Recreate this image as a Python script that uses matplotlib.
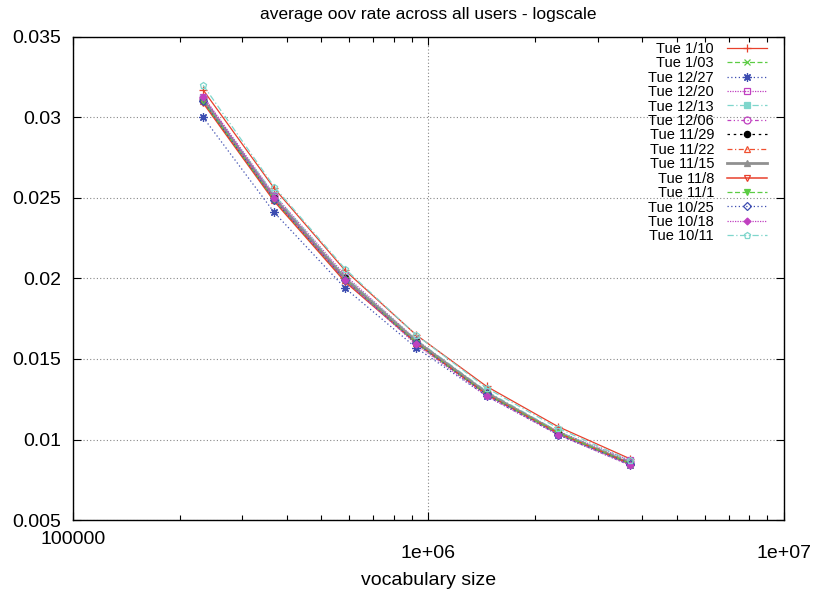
import matplotlib
matplotlib.use("Agg")
import matplotlib.pyplot as plt
from matplotlib.ticker import FixedLocator, LogLocator, NullFormatter

plt.rcParams['font.family'] = ['Liberation Sans', 'DejaVu Sans']

vocab_size = [2.33e5, 3.69e5, 5.84e5, 9.25e5, 1.46e6, 2.32e6, 3.70e6]

labels = ["Tue 1/10", "Tue 1/03", "Tue 12/27", "Tue 12/20", "Tue 12/13", "Tue 12/06",
          "Tue 11/29", "Tue 11/22", "Tue 11/15", "Tue 11/8", "Tue 11/1", "Tue 10/25",
          "Tue 10/18", "Tue 10/11"]

oov_jan10 = [0.0317, 0.0256, 0.0205, 0.0165, 0.0133, 0.0108, 0.0088]
oov_jan03 = [0.0311, 0.0250, 0.0200, 0.0161, 0.0129, 0.0105, 0.0086]
oov_dec27 = [0.0300, 0.0241, 0.0194, 0.0157, 0.0127, 0.0103, 0.0084]
oov_dec20 = [0.0313, 0.0252, 0.0202, 0.0162, 0.0129, 0.0105, 0.0087]
oov_dec13 = [0.0312, 0.0252, 0.0201, 0.0162, 0.0130, 0.0105, 0.0086]
oov_dec06 = [0.0312, 0.0251, 0.0200, 0.0161, 0.0129, 0.0104, 0.0086]
oov_nov29 = [0.0311, 0.0250, 0.0200, 0.0161, 0.0129, 0.0104, 0.0085]
oov_nov22 = [0.0310, 0.0249, 0.0199, 0.0160, 0.0128, 0.0104, 0.0085]
oov_nov15 = [0.0311, 0.0250, 0.0200, 0.0161, 0.0129, 0.0104, 0.0085]
oov_nov8 = [0.0309, 0.0248, 0.0198, 0.0160, 0.0128, 0.0104, 0.0085]
oov_nov1 = [0.0310, 0.0249, 0.0199, 0.0160, 0.0128, 0.0104, 0.0085]
oov_oct25 = [0.0310, 0.0249, 0.0199, 0.0160, 0.0128, 0.0103, 0.0085]
oov_oct18 = [0.0313, 0.0250, 0.0199, 0.0159, 0.0127, 0.0103, 0.0084]
oov_oct11 = [0.0320, 0.0257, 0.0206, 0.0165, 0.0132, 0.0107, 0.0087]

series = [oov_jan10, oov_jan03, oov_dec27, oov_dec20, oov_dec13, oov_dec06, oov_nov29,
          oov_nov22, oov_nov15, oov_nov8, oov_nov1, oov_oct25, oov_oct18, oov_oct11]

# (color, linestyle, marker, filled, linewidth, markersize)
styles = [
    ("#e8402c", "-", "+", True, 0.9, 6),
    ("#5ccc44", (0, (4, 2)), "x", True, 0.9, 5),
    ("#3c4cb0", (0, (1, 2)), (8, 2, 0), True, 0.9, 6),
    ("#c040c0", (0, (1, 1)), "s", False, 0.9, 4.5),
    ("#7fd6cc", (0, (5, 2, 1, 2)), "s", True, 0.9, 4.5),
    ("#c040c0", (0, (3, 2, 1, 2, 1, 2)), "o", False, 0.9, 5),
    ("#000000", (0, (2, 3)), "o", True, 0.9, 4.5),
    ("#f05030", (0, (4, 2, 1, 2)), "^", False, 0.9, 5),
    ("#909090", "-", "^", True, 2.0, 4.5),
    ("#e8402c", "-", "v", False, 1.1, 5),
    ("#5ccc44", (0, (4, 2)), "v", True, 0.9, 4.5),
    ("#3c4cb0", (0, (1, 2)), "D", False, 0.9, 4),
    ("#c040c0", (0, (1, 1)), "D", True, 0.9, 3.5),
    ("#7fd6cc", (0, (5, 2, 1, 2)), "p", False, 0.9, 5),
]

fig = plt.figure(figsize=(8.31, 5.96), dpi=100)
ax = fig.add_axes([0.0874, 0.1275, 0.8556, 0.8105])

for lab, vals, (col, ls, mk, filled, lw, ms) in zip(labels, series, styles):
    ax.plot(vocab_size, vals, color=col, linestyle=ls, linewidth=lw, marker=mk,
            markersize=ms, markeredgewidth=0.9,
            markerfacecolor=col if filled else "none", markeredgecolor=col,
            label=lab)

ax.set_xscale("log")
ax.set_xlim(1e5, 1e7)
ax.set_ylim(0.005, 0.035)
ax.xaxis.set_major_locator(FixedLocator([1e5, 1e6, 1e7]))
ax.xaxis.set_minor_locator(LogLocator(base=10, subs=range(2, 10)))
ax.xaxis.set_minor_formatter(NullFormatter())
ax.set_xticklabels(["100000", "1e+06", "1e+07"])
ax.set_yticks([0.005, 0.01, 0.015, 0.02, 0.025, 0.03, 0.035])
ax.set_yticklabels(["0.005", "0.01", "0.015", "0.02", "0.025", "0.03", "0.035"])

ax.tick_params(axis="both", which="both", direction="in", top=True, right=True)
ax.tick_params(axis="both", which="major", length=6, width=0.8, labelsize=14)
ax.tick_params(axis="x", which="minor", length=3.5, width=0.8)
ax.tick_params(axis="y", which="major", pad=8)
xt = ax.xaxis.get_major_ticks()
xt[0].set_pad(8)
xt[1].set_pad(18)
xt[2].set_pad(18)

ax.grid(True, which="major", color="#888888", linestyle=(0, (1, 2)), linewidth=0.8)
for sp in ax.spines.values():
    sp.set_linewidth(1.0)

ax.set_title("average oov rate across all users - logscale", fontsize=12.5, pad=13)
ax.set_xlabel("vocabulary size", fontsize=14, labelpad=7)

# markerfirst=False right-aligns the rows, so the labels line up on the right
ax.legend(loc="upper right", bbox_to_anchor=(0.976, 0.99), frameon=False,
          fontsize=10.5, markerfirst=False, handlelength=2.7, handletextpad=0.9,
          labelspacing=0.03, borderpad=0, borderaxespad=0)

fig.savefig("out.png", dpi=100)
